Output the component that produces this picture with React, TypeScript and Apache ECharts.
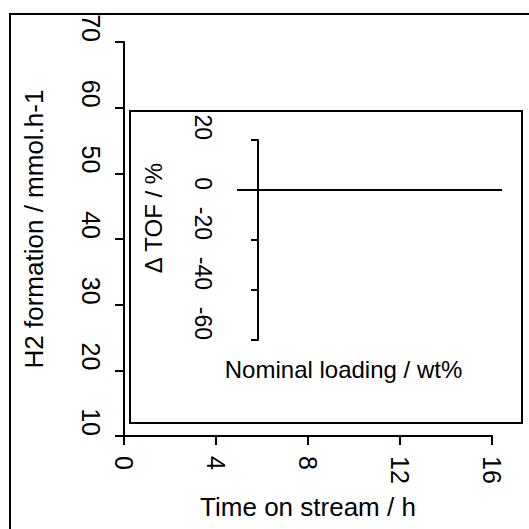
import React, { useEffect, useRef } from "react";
import * as echarts from "echarts";

const FONT = '"Liberation Sans", Arial, Helvetica, sans-serif';

// Main chart axes (no data drawn in the reference)
const timeTicks = [0, 4, 8, 12, 16];
const h2Ticks = [10, 20, 30, 40, 50, 60, 70];
const h2Data: number[][] = [];

// Inset chart
const tofTicks = [-60, -40, -20, 0, 20];
const loadingRange = [0, 10];
const loadingValues = [0, 10];
const tofValues = [0, 0];

const step = (t: number[]) => t[1] - t[0];

export default function App() {
  const ref = useRef<HTMLDivElement>(null);
  useEffect(() => {
    const chart = echarts.init(ref.current!, null, { renderer: "svg" });
    const axisLine = { show: true, onZero: false, lineStyle: { color: "#000", width: 2 } };
    chart.setOption({
      animation: false,
      backgroundColor: "#fff",
      textStyle: { fontFamily: FONT },
      grid: [
        { left: 124, top: 42, width: 368, height: 394 },
        { left: 237, top: 140, width: 265, height: 200 },
      ],
      xAxis: [
        {
          type: "value",
          gridIndex: 0,
          min: timeTicks[0],
          max: timeTicks[timeTicks.length - 1],
          interval: step(timeTicks),
          splitLine: { show: false },
          axisLine,
          axisTick: { show: true, length: 9, lineStyle: { color: "#000", width: 2 } },
          axisLabel: {
            rotate: -90,
            align: "left",
            verticalAlign: "middle",
            margin: 20,
            fontSize: 25,
            color: "#000",
            fontFamily: FONT,
          },
          name: "Time on stream / h",
          nameLocation: "middle",
          nameGap: 58,
          nameTextStyle: { fontSize: 26, color: "#000", fontFamily: FONT },
        },
        {
          type: "value",
          gridIndex: 1,
          min: loadingRange[0],
          max: loadingRange[1],
          splitLine: { show: false },
          axisLine: { show: false },
          axisTick: { show: false },
          axisLabel: { show: false },
          name: "Nominal loading / wt%",
          nameLocation: "middle",
          nameGap: 17,
          nameTextStyle: { fontSize: 24, color: "#000", fontFamily: FONT, padding: [0, 52, 0, 0] },
        },
      ],
      yAxis: [
        {
          type: "value",
          gridIndex: 0,
          min: h2Ticks[0],
          max: h2Ticks[h2Ticks.length - 1],
          interval: step(h2Ticks),
          splitLine: { show: false },
          axisLine,
          axisTick: { show: true, length: 9, lineStyle: { color: "#000", width: 2 } },
          axisLabel: {
            rotate: -90,
            align: "right",
            verticalAlign: "middle",
            margin: 33,
            fontSize: 25,
            color: "#000",
            fontFamily: FONT,
          },
          name: "H2 formation / mmol.h-1",
          nameLocation: "middle",
          nameRotate: 90,
          nameGap: 77,
          nameTextStyle: { fontSize: 26, color: "#000", fontFamily: FONT, padding: [0, 0, 0, 20] },
        },
        {
          type: "value",
          gridIndex: 1,
          min: tofTicks[0],
          max: tofTicks[tofTicks.length - 1],
          interval: step(tofTicks),
          offset: -21,
          splitLine: { show: false },
          axisLine,
          axisTick: { show: true, length: 7, lineStyle: { color: "#000", width: 2 } },
          axisLabel: {
            rotate: -90,
            align: "right",
            verticalAlign: "middle",
            margin: 55,
            fontSize: 23,
            color: "#000",
            fontFamily: FONT,
          },
          name: "Δ TOF / %",
          nameLocation: "middle",
          nameRotate: 90,
          nameGap: 93,
          nameTextStyle: { fontSize: 24, color: "#000", fontFamily: FONT, padding: [0, 0, 0, 44] },
        },
      ],
      series: [
        {
          type: "line",
          xAxisIndex: 0,
          yAxisIndex: 0,
          data: h2Data,
          symbol: "none",
        },
        {
          type: "line",
          xAxisIndex: 1,
          yAxisIndex: 1,
          data: loadingValues.map((x, i) => [x, tofValues[i]]),
          symbol: "none",
          lineStyle: { color: "#000", width: 2 },
        },
      ],
      graphic: [
        {
          type: "rect",
          silent: true,
          shape: { x: 10, y: 14, width: 800, height: 800 },
          style: { fill: "none", stroke: "#000", lineWidth: 2 },
        },
        {
          type: "rect",
          silent: true,
          shape: { x: 130, y: 111, width: 392, height: 312 },
          style: { fill: "none", stroke: "#000", lineWidth: 2 },
        },
      ],
    });
    return () => chart.dispose();
  }, []);
  return (
    <div
      ref={ref}
      style={{ position: "fixed", left: 0, top: 0, width: 529, height: 529, background: "#fff" }}
    />
  );
}
